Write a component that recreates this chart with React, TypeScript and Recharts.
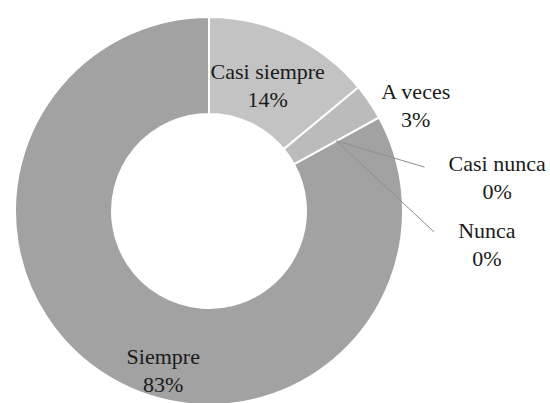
import { PieChart, Pie, Cell } from "recharts";

const categories = ["Casi siempre", "A veces", "Casi nunca", "Nunca", "Siempre"];
const shares = [14, 3, 0, 0, 83];
const colors = ["#c3c3c3", "#bbbbbb", "#b0b0b0", "#a8a8a8", "#a2a2a2"];

const data = categories.map((name, i) => ({ name, value: shares[i] }));

const RAD = Math.PI / 180;

// where each label sits: angle (deg, null = slice middle) and distance from centre
const labelSpots: Record<string, { angle: number | null; r: number; leader?: { angle: number; r: number } }> = {
  "Casi siempre": { angle: null, r: 138 },
  "A veces": { angle: 27, r: 232 },
  "Casi nunca": { angle: 6.5, r: 290, leader: { angle: 11.5, r: 220 } },
  Nunca: { angle: -7, r: 280, leader: { angle: -5.3, r: 226 } },
  Siempre: { angle: -106, r: 166 },
};

function renderLabel(props: any) {
  const { cx, cy, midAngle, innerRadius, outerRadius, percent, name } = props;
  const spot = labelSpots[name];
  const a = (spot.angle ?? midAngle) * RAD;
  const x = cx + spot.r * Math.cos(a);
  const y = cy - spot.r * Math.sin(a);
  let leader = null;
  if (spot.leader) {
    const mr = (innerRadius + outerRadius) / 2;
    const x1 = cx + mr * Math.cos(midAngle * RAD);
    const y1 = cy - mr * Math.sin(midAngle * RAD);
    const la = spot.leader.angle * RAD;
    const x2 = cx + spot.leader.r * Math.cos(la);
    const y2 = cy - spot.leader.r * Math.sin(la);
    leader = <line x1={x1} y1={y1} x2={x2} y2={y2} stroke="#8f8f8f" strokeWidth={1} />;
  }
  return (
    <g key={`lbl-${name}`}>
      {leader}
      <text
        x={x}
        y={y}
        textAnchor="middle"
        fill="#1a1a1a"
        fontFamily="Liberation Serif, Times New Roman, serif"
        fontSize={22}
      >
        <tspan x={x} dy={-7}>{name}</tspan>
        <tspan x={x} dy={28}>{`${Math.round(percent * 100)}%`}</tspan>
      </text>
    </g>
  );
}

export default function App() {
  return (
    <div style={{ position: "fixed", left: 0, top: 0, width: 550, height: 403, background: "#fff" }}>
      <PieChart width={550} height={403}>
        <Pie
          data={data}
          dataKey="value"
          nameKey="name"
          cx={204}
          cy={206}
          innerRadius={97}
          outerRadius={194}
          startAngle={90}
          endAngle={-270}
          stroke="#ffffff"
          strokeWidth={2}
          label={renderLabel}
          labelLine={false}
          isAnimationActive={false}
        >
          {data.map((d, i) => (
            <Cell key={d.name} fill={colors[i]} />
          ))}
        </Pie>
      </PieChart>
    </div>
  );
}
